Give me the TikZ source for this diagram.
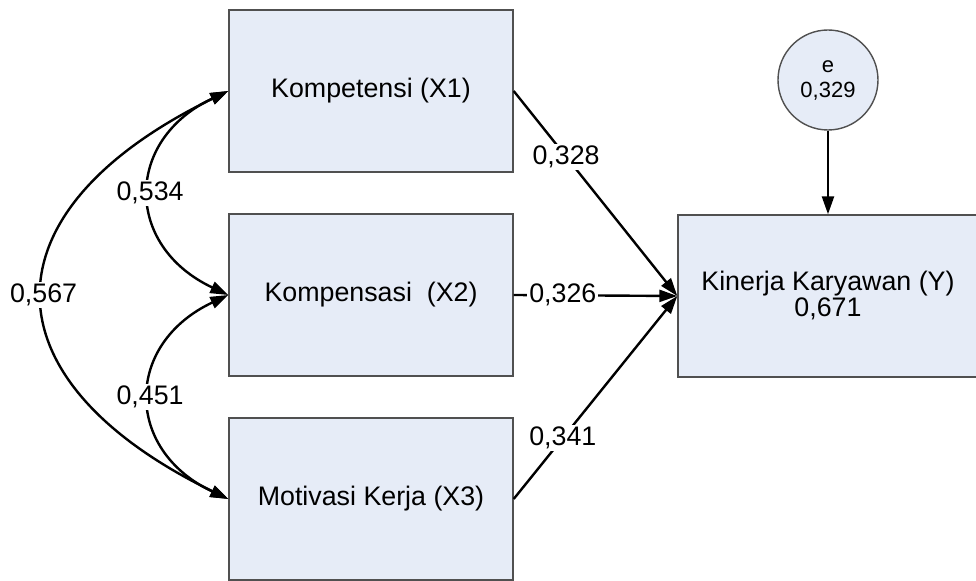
\documentclass[tikz,border=0pt]{standalone}
\usepackage{fontspec}
\setmainfont{Liberation Sans}
\usetikzlibrary{arrows.meta}
\definecolor{boxfill}{RGB}{230,236,247}
\definecolor{boxline}{RGB}{80,80,80}

\begin{document}
\begin{tikzpicture}[x=0.5pt,y=-0.5pt,line width=1.2pt]
            \tikzset{var/.style={draw=boxline,line width=0.7pt,fill=boxfill,minimum width=142pt,minimum height=81pt,align=center,font=\fontsize{13.4}{13}\selectfont}};
            \tikzset{err/.style={draw=boxline,line width=0.7pt,fill=boxfill,circle,minimum size=50pt,inner sep=0pt,align=center,font=\fontsize{11}{12.5}\selectfont}};
            \tikzset{coef/.style={fill=white,inner sep=1pt,font=\fontsize{13.4}{16}\selectfont}};
            \tikzset{>={Triangle[length=9pt,width=6pt]}};
            \useasboundingbox (0,0) rectangle (976,581);
            
            \node[var] (x1) at (371,91) {Kompetensi (X1)};
            \node[var] (x2) at (371,295) {Kompensasi~~(X2)};
            \node[var] (x3) at (371,499) {Motivasi Kerja (X3)};
            \node[var,minimum width=150pt] (y) at (828,296) {Kinerja Karyawan (Y)\\0,671};
            \node[err] (e) at (828,80) {e\\0,329};
            
            \draw[->] (x1.east)--(y.west) node[coef,pos=0.32] {0,328};
            \draw[->] (x2.east)--(y.west) node[coef,pos=0.3] {0,326};
            \draw[->] (x3.east)--(y.west) node[coef,pos=0.3] {0,341};
            \draw[->] (e)--(y);
            
            \draw[<->] (x1.west) .. controls (-18,211) and (-18,379) .. (x3.west) node[coef,pos=0.5] {0,567};
            \draw[<->] (x1.west) .. controls (124,140) and (124,246) .. (x2.west) node[coef,pos=0.5] {0,534};
            \draw[<->] (x2.west) .. controls (124,344) and (124,450) .. (x3.west) node[coef,pos=0.5] {0,451};
\end{tikzpicture}
\end{document}
